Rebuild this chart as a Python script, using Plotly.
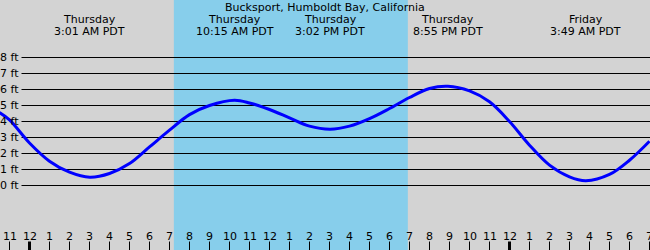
import plotly.graph_objects as go

# ---- data ----
title = "Bucksport, Humboldt Bay, California"

# tide curve samples: hours after Thursday midnight (PDT), height in ft
curve_hours = [-1.5, -1, 0, 1, 2, 3.017, 4, 5, 6, 7, 8, 9, 10.25, 11, 12, 13, 14,
               15.033, 16, 17, 18, 19, 20, 20.917, 22, 23, 24, 25, 26, 27, 27.817,
               29, 30, 31]
curve_ft = [4.56, 4.1, 2.66, 1.52, 0.83, 0.52, 0.75, 1.37, 2.41, 3.46, 4.43, 5.0, 5.33,
            5.16, 4.75, 4.23, 3.71, 3.52, 3.71, 4.18, 4.81, 5.5, 6.06, 6.2, 5.91, 5.23,
            4.0, 2.52, 1.27, 0.54, 0.3, 0.69, 1.58, 2.77]

# tide extremes labelled at the top
extreme_hours = [3.017, 10.25, 15.033, 20.917, 27.817]
extreme_days = ["Thursday", "Thursday", "Thursday", "Thursday", "Friday"]
extreme_times = ["3:01 AM PDT", "10:15 AM PDT", "3:02 PM PDT", "8:55 PM PDT", "3:49 AM PDT"]

# daylight
sunrise_hour = 7.217
sunset_hour = 18.917

# y grid levels
ft_levels = [0, 1, 2, 3, 4, 5, 6, 7, 8]
ft_labels = ["0 ft", "1 ft", "2 ft", "3 ft", "4 ft", "5 ft", "6 ft", "7 ft", "8 ft"]

# hour ticks
tick_hours = list(range(-1, 32))
tick_labels = ["11"] + [str(((h - 1) % 12) + 1) for h in range(0, 32)]
midnight_hours = [0, 24]

# ---- layout helpers ----
W, H = 650, 250
X0_PIX, PX_PER_H = 29.5, 20.0
Y0_PIX, PX_PER_FT = 185.5, 16.0
x_range = [(0 - X0_PIX) / PX_PER_H, (W - X0_PIX) / PX_PER_H]
y_range = [(Y0_PIX - H) / PX_PER_FT, Y0_PIX / PX_PER_FT]

def py(pix):
    return 1 - pix / H

def px(pix):
    return pix / W

FONT = "DejaVu Sans"
GRAY = "#d3d3d3"
SKY = "#87ceeb"

fig = go.Figure()
fig.add_trace(go.Scatter(x=curve_hours, y=curve_ft, mode="lines",
                         line=dict(color="#0000ff", width=3, shape="spline", smoothing=1.0),
                         hoverinfo="skip", showlegend=False))

shapes = []
shapes.append(dict(type="rect", xref="x", yref="paper", x0=sunrise_hour, x1=sunset_hour,
                   y0=0, y1=1, fillcolor=SKY, line=dict(width=0), layer="below"))
for lv in ft_levels:
    shapes.append(dict(type="line", xref="paper", yref="y", x0=px(21.5), x1=1, y0=lv, y1=lv,
                       line=dict(color="black", width=1), layer="below"))
for h in tick_hours:
    wdt = 3 if h in midnight_hours else 1
    shapes.append(dict(type="line", xref="x", yref="paper", x0=h, x1=h, y0=0, y1=py(241.5),
                       line=dict(color="black", width=wdt), layer="below"))

ann = []
ann.append(dict(text=title, x=px(325), y=py(7.5), xref="paper", yref="paper",
                showarrow=False, xanchor="center", yanchor="middle",
                font=dict(family=FONT, size=11, color="black")))
for h, d, t in zip(extreme_hours, extreme_days, extreme_times):
    ann.append(dict(text=d, x=h, y=py(19.5), xref="x", yref="paper", showarrow=False,
                    xanchor="center", yanchor="middle",
                    font=dict(family=FONT, size=11, color="black")))
    ann.append(dict(text=t, x=h, y=py(31.5), xref="x", yref="paper", showarrow=False,
                    xanchor="center", yanchor="middle",
                    font=dict(family=FONT, size=11, color="black")))
for lv, lb in zip(ft_levels, ft_labels):
    ann.append(dict(text=lb, x=px(20.5), y=lv, xref="paper", yref="y", showarrow=False,
                    xanchor="right", yanchor="middle",
                    font=dict(family=FONT, size=11, color="black")))
for h, lb in zip(tick_hours, tick_labels):
    ann.append(dict(text=lb, x=h, y=py(236), xref="x", yref="paper", showarrow=False,
                    xanchor="center", yanchor="middle",
                    font=dict(family=FONT, size=11, color="black")))

fig.update_layout(
    width=W, height=H, margin=dict(l=0, r=0, t=0, b=0, pad=0),
    paper_bgcolor=GRAY, plot_bgcolor=GRAY,
    xaxis=dict(range=x_range, visible=False, fixedrange=True),
    yaxis=dict(range=y_range, visible=False, fixedrange=True),
    shapes=shapes, annotations=ann, showlegend=False,
)
fig.write_html("out.html", config={"displayModeBar": False})
